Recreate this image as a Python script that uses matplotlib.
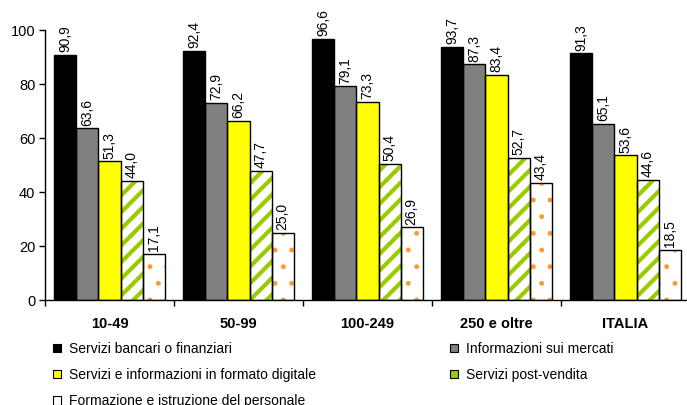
import matplotlib
matplotlib.use("Agg")
import matplotlib.pyplot as plt
from matplotlib.patches import Patch
import numpy as np

plt.rcParams['font.family'] = ['Liberation Sans', 'DejaVu Sans']

categories = ["10-49", "50-99", "100-249", "250 e oltre", "ITALIA"]
series_names = [
    "Servizi bancari o finanziari",
    "Informazioni sui mercati",
    "Servizi e informazioni in formato digitale",
    "Servizi post-vendita",
    "Formazione e istruzione del personale",
]
bancari = [90.9, 92.4, 96.6, 93.7, 91.3]
mercati = [63.6, 72.9, 79.1, 87.3, 65.1]
digitale = [51.3, 66.2, 73.3, 83.4, 53.6]
post_vendita = [44.0, 47.7, 50.4, 52.7, 44.6]
formazione = [17.1, 25.0, 26.9, 43.4, 18.5]
series_values = [bancari, mercati, digitale, post_vendita, formazione]

# face colour, hatch, hatch colour, hatch line width
styles = [
    ("#000000", None, None, None),
    ("#808080", None, None, None),
    ("#FFFF00", None, None, None),
    ("#FFFFFF", "//", "#99CC00", 3.0),
    ("#FFFFFF", ".", "#FF9933", 1.1),
]

W, H = 687, 405
fig = plt.figure(figsize=(W / 100, H / 100), dpi=100)
ax = fig.add_axes([45 / W, (H - 300) / H, 645 / W, 270 / H])

x = np.arange(len(categories))
bw = 0.171
offsets = (np.arange(5) - 2) * bw

for vals, (fc, hatch, hc, hlw), off in zip(series_values, styles, offsets):
    pos = x + off
    if hatch:
        with plt.rc_context({"hatch.linewidth": hlw}):
            ax.bar(pos, vals, bw, color=fc, hatch=hatch, edgecolor=hc,
                   linewidth=0, zorder=2)
    else:
        ax.bar(pos, vals, bw, color=fc, linewidth=0, zorder=2)
    ax.bar(pos, vals, bw, fill=False, edgecolor="black", linewidth=1.0, zorder=3)
    for px, v in zip(pos, vals):
        ax.annotate(f"{v:.1f}".replace(".", ","), (px, v), xytext=(0, 2),
                    textcoords="offset points", rotation=90, ha="center",
                    va="bottom", fontsize=10, annotation_clip=False)

ax.set_xlim(-0.5, 4.5)
ax.set_ylim(0, 100)
ax.set_yticks(range(0, 101, 20))
ax.tick_params(axis="y", direction="out", length=4, width=1, labelsize=10.5, pad=3)
ax.set_xticks(np.arange(-0.5, 4.6, 1.0))
ax.set_xticklabels([])
ax.tick_params(axis="x", which="major", direction="out", length=4, width=1)
ax.set_xticks(x, minor=True)
ax.set_xticklabels(categories, minor=True, fontsize=10.5, fontweight="bold")
ax.tick_params(axis="x", which="minor", length=0, pad=12)
for s in ("top", "right"):
    ax.spines[s].set_visible(False)
for s in ("left", "bottom"):
    ax.spines[s].set_linewidth(1.0)

handles = []
for name, (fc, hatch, hc, hlw) in zip(series_names, styles):
    if hatch == "//":
        handles.append(Patch(facecolor="#99CC00", edgecolor="black", linewidth=0.8, label=name))
    elif hatch == ".":
        handles.append(Patch(facecolor="white", edgecolor="black", linewidth=0.8, label=name))
    else:
        handles.append(Patch(facecolor=fc, edgecolor="black", linewidth=0.8, label=name))
order = [0, 2, 4, 1, 3]
leg = fig.legend([handles[i] for i in order], [series_names[i] for i in order],
                 ncol=2, loc="upper left", bbox_to_anchor=(53 / W, 1 - 342 / H),
                 frameon=False, fontsize=10, handlelength=0.55, handleheight=0.55,
                 handletextpad=0.58, columnspacing=9.7, labelspacing=0.88,
                 borderaxespad=0, borderpad=0)

fig.savefig("out.png", dpi=100)
